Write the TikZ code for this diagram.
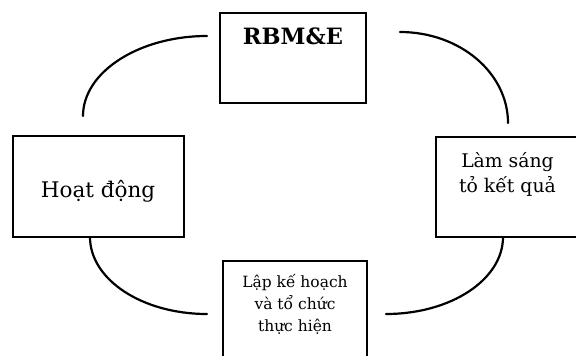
\documentclass[tikz,border=0pt]{standalone}
\usepackage{fontspec}
\setmainfont{DejaVu Serif}
\begin{document}
\begin{tikzpicture}[x=1pt,y=-1pt,
  stagebox/.style={draw=black,line width=2.2pt,rectangle,inner sep=0pt,outer sep=0pt},
  label/.style={inner sep=0pt,outer sep=0pt,align=center},
  cycleline/.style={draw=black,line width=2.2pt,line cap=round}]
\useasboundingbox (0,0) rectangle (576,356);
\clip (0,0) rectangle (576,356);

% stage boxes
\node[stagebox,minimum width=146pt,minimum height=90pt] (rbme) at (293,58) {};
\node[stagebox,minimum width=171pt,minimum height=101pt] (act) at (98.5,186.5) {};
\node[stagebox,minimum width=164pt,minimum height=100pt] (clar) at (518,187) {};
\node[stagebox,minimum width=144pt,minimum height=109pt] (plan) at (295,315.5) {};

% box texts (multi-line labels sit on the baseline of their last line)
\node[label,anchor=base,font=\fontsize{22.5}{27}\selectfont\bfseries] (trbme) at (293,45) {RBM\&E};
\node[label,anchor=base,font=\fontsize{21.5}{26}\selectfont] (tact) at (98,197) {Hoạt động};
\node[label,anchor=base,font=\fontsize{18.8}{25}\selectfont] (tclar) at (507.5,192) {Làm sáng\\tỏ kết quả};
\node[label,anchor=base,font=\fontsize{15.5}{22}\selectfont] (tplan) at (295,331) {Lập kế hoạch\\và tổ chức\\thực hiện};

% end points of the cycle arcs
\coordinate (a1s) at (83,116);  \coordinate (a1e) at (207,36);
\coordinate (a2s) at (400,32);  \coordinate (a2e) at (508,123);
\coordinate (a3s) at (90,237);  \coordinate (a3e) at (207,314);
\coordinate (a4s) at (386,314); \coordinate (a4e) at (503,237);

% cycle arcs between the stages
\draw[cycleline] (a1s) .. controls (83,72) and (139,36) .. (a1e);
\draw[cycleline] (a2s) .. controls (460,32) and (508,73) .. (a2e);
\draw[cycleline] (a3s) .. controls (90,279.5) and (142,314) .. (a3e);
\draw[cycleline] (a4s) .. controls (451,314) and (503,279.5) .. (a4e);
\end{tikzpicture}
\end{document}
